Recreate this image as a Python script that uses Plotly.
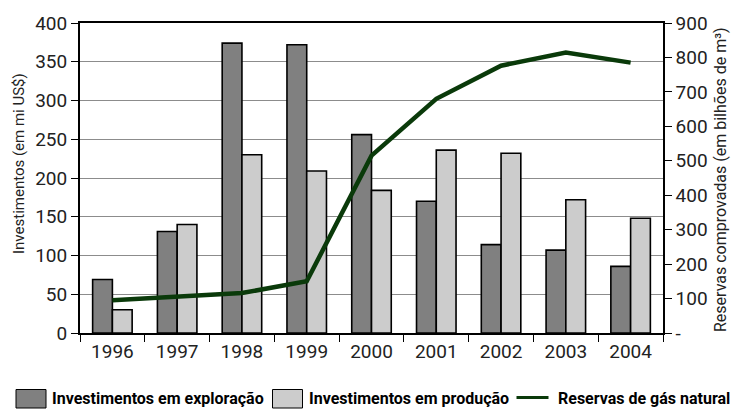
import plotly.graph_objects as go

years = ["1996", "1997", "1998", "1999", "2000", "2001", "2002", "2003", "2004"]
exploracao = [69, 131, 374, 372, 256, 170, 114, 107, 86]
producao = [30, 140, 230, 209, 184, 236, 232, 172, 148]
reservas = [95, 105, 116, 150, 515, 680, 776, 814, 785]

right_tickvals = [0, 100, 200, 300, 400, 500, 600, 700, 800, 900]
right_ticktext = ["-", "100", "200", "300", "400", "500", "600", "700", "800", "900"]

names = ["Investimentos em exploração", "Investimentos em produção", "Reservas de gás natural"]
colors = ["#808080", "#cccccc", "#0a3a0a"]

FONT = "Roboto"
LEG_FONT = "Roboto"

W, H = 731, 409
L, R, T, B = 80, 68, 23, 76
PW, PH = W - L - R, H - T - B


def px(x):
    return (x - L) / PW


def py(y):
    return (H - B - y) / PH


fig = go.Figure()
fig.add_trace(go.Bar(
    x=years, y=exploracao, name=names[0],
    marker=dict(color=colors[0], line=dict(color="#000000", width=1.6)),
))
fig.add_trace(go.Bar(
    x=years, y=producao, name=names[1],
    marker=dict(color=colors[1], line=dict(color="#000000", width=1.6)),
))
fig.add_trace(go.Scatter(
    x=years, y=reservas, name=names[2], yaxis="y2",
    mode="lines", line=dict(color=colors[2], width=4.5),
))

shapes = [
    dict(type="rect", xref="paper", yref="paper", x0=px(16), x1=px(46), y0=py(408), y1=py(389.5),
         fillcolor=colors[0], line=dict(color="#000000", width=1)),
    dict(type="rect", xref="paper", yref="paper", x0=px(272.5), x1=px(302.5), y0=py(408), y1=py(389.5),
         fillcolor=colors[1], line=dict(color="#000000", width=1)),
    dict(type="line", xref="paper", yref="paper", x0=px(516.5), x1=px(548.5), y0=py(397.5), y1=py(397.5),
         line=dict(color=colors[2], width=3)),
]

ann = []
for x0, name in zip([50, 307, 555.5], names):
    ann.append(dict(text="<b>" + name + "</b>", xref="paper", yref="paper", x=px(x0), y=py(398.5),
                    xanchor="left", yanchor="middle", showarrow=False,
                    font=dict(family=LEG_FONT, size=16, color="#000000")))
ann.append(dict(text="Investimentos (em mi US$)", xref="paper", yref="paper", x=px(19), y=py(164),
                xanchor="center", yanchor="middle", textangle=-90, showarrow=False,
                font=dict(family=FONT, size=15, color="#222222")))
ann.append(dict(text="Reservas comprovadas (em bilhões de m³)", xref="paper", yref="paper",
                x=px(720), y=py(180), xanchor="center", yanchor="middle", textangle=-90, showarrow=False,
                font=dict(family=FONT, size=16, color="#222222")))

fig.update_layout(
    template="none",
    width=W, height=H,
    margin=dict(l=L, r=R, t=T, b=B, pad=0),
    paper_bgcolor="white", plot_bgcolor="white",
    font=dict(family=FONT, size=19, color="#222222"),
    barmode="group", bargap=0.39, bargroupgap=0,
    showlegend=False,
    shapes=shapes, annotations=ann,
    xaxis=dict(
        type="category", automargin=False, showline=True, linecolor="#000000", linewidth=1.5, mirror=True,
        ticks="outside", ticklen=7, tickwidth=1.2, tickcolor="#000000", tickson="boundaries",
        showgrid=False, zeroline=False, tickfont=dict(family=FONT, size=19, color="#222222"),
    ),
    yaxis=dict(
        range=[0, 400], dtick=50, automargin=False, showline=True, linecolor="#000000", linewidth=2,
        ticks="outside", ticklen=7, tickwidth=1.2, tickcolor="#000000",
        showgrid=True, gridcolor="#8c8c8c", gridwidth=1, zeroline=False,
        tickfont=dict(family=FONT, size=19, color="#222222"),
    ),
    yaxis2=dict(
        range=[0, 900], overlaying="y", side="right", automargin=False,
        tickvals=right_tickvals, ticktext=right_ticktext,
        showline=True, linecolor="#000000", linewidth=1.5,
        ticks="outside", ticklen=7, tickwidth=1.2, tickcolor="#000000",
        showgrid=False, zeroline=False,
        tickfont=dict(family=FONT, size=19, color="#222222"),
    ),
)

fig.write_html("out.html")
